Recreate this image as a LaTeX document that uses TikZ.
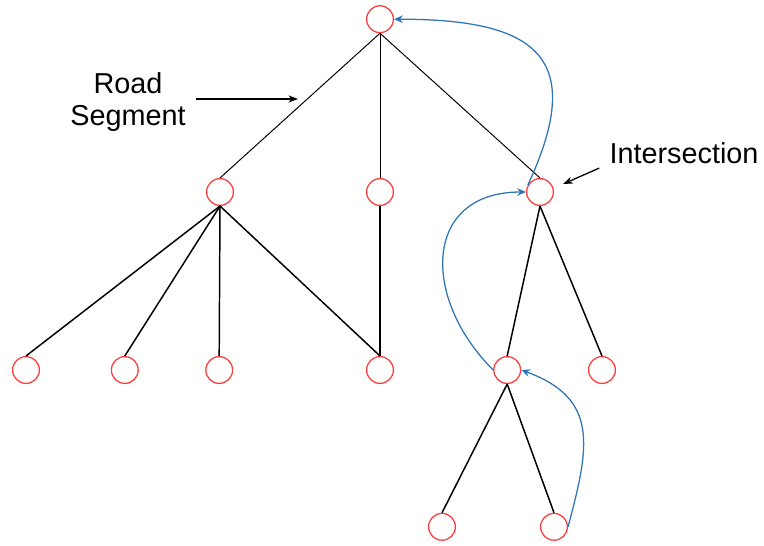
\documentclass[tikz,border=0pt]{standalone}
\usepackage{fontspec}
\setmainfont{Liberation Sans}
\usetikzlibrary{positioning,arrows.meta}

\definecolor{jred}{RGB}{255,60,60}
\definecolor{jblue}{RGB}{46,117,182}

\begin{document}
\begin{tikzpicture}[
    junction/.style={circle,draw=jred,line width=0.9pt,inner sep=0pt,minimum size=6.7mm},
    road/.style={line width=1.05pt},
    link/.style={draw=jblue,line width=0.9pt,-{Stealth[length=2.2mm,width=1.9mm]}},
    pointer/.style={line width=0.9pt,-{Stealth[length=2.4mm,width=1.8mm]}},
    font=\fontsize{20.5}{22.8}\selectfont
    ]

    \useasboundingbox (0,0) rectangle (19.1,-13.65);

    % top intersection:
    \node (root) at (9.5,-0.48) [junction] {};

    % first level:
    \foreach \name/\x in {a/5.5, b/9.5, c/13.5}
    \node (\name) at (\x,-4.8) [junction] {};

    % second level:
    \foreach \name/\x in {a1/0.65, a2/3.12, a3/5.48, b1/9.5, c1/12.68, c2/15.05}
    \node (\name) at (\x,-9.25) [junction] {};

    % third level:
    \node (c11) at (11.05,-13.17) [junction] {};
    \node (c12) at (13.85,-13.17) [junction] {};

    % road segments:
    \foreach \x in {a,b,c}
    \draw [line width=0.7pt] (root.south) -- (\x.north);

    \foreach \x in {a1,a2,a3,b1}
    \draw [road] (a.south) -- (\x.north);

    \draw [road] (b.south) -- (b1.north);

    \foreach \x in {c1,c2}
    \draw [road] (c.south) -- (\x.north);

    \foreach \x in {c11,c12}
    \draw [road] (c1.south) -- (\x.north);

    % links back up the tree:
    \draw [link] (c.150) to [out=65,in=0,looseness=1.7] (root.east);
    \draw [link] (c1.west) to [out=135,in=180,looseness=1.45] (c.west);
    \draw [link] (c12.east) to [out=75,in=-20,looseness=1.3] (c1.east);

    % labels:
    \node (roadlbl) at (3.2,-2.55) [align=center,inner sep=0pt] {Road\\Segment};
    \coordinate (segtip) at (7.45,-2.475);
    \draw [pointer,shorten <=2.5mm] (roadlbl.east |- segtip) -- (segtip);

    \node (intlbl) at (17.1,-3.83) [inner sep=0pt] {Intersection};
    \coordinate (isectip) at (14.08,-4.6);
    \draw [pointer] ([xshift=-2.5mm,yshift=-1mm]intlbl.south west) -- (isectip);

  \end{tikzpicture}
\end{document}
